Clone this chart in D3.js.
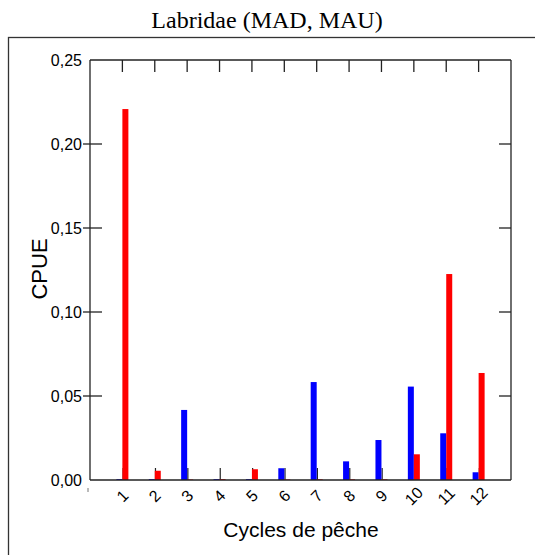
<!DOCTYPE html>
<html><head><meta charset="utf-8">
<script src="https://cdn.jsdelivr.net/npm/d3@7"></script>
<style>body{margin:0;background:#fff}svg{display:block}</style>
</head><body>
<script>
const categories = [1,2,3,4,5,6,7,8,9,10,11,12];
const xTickLabels = ["1","2","3","4","5","6","7","8","9","10","11","12"];
const blueValues = [0.0005,0.0005,0.0417,0.0005,0.0005,0.0070,0.0583,0.0111,0.0238,0.0556,0.0278,0.0046];
const redValues  = [0.2208,0.0055,0.0003,0.0005,0.0064,0.0003,0.0004,0.0004,0.0004,0.0153,0.1226,0.0637];
const yTicks = [0,0.05,0.10,0.15,0.20,0.25];
const yTickLabels = ["0,00","0,05","0,10","0,15","0,20","0,25"];

const W=535,H=555;
const svg=d3.select("body").append("svg").attr("width",W).attr("height",H);
const L=90,R=511,T=60,B=480;
const x=d3.scaleLinear().domain([0,13]).range([L,R]);
const y=d3.scaleLinear().domain([0,0.25]).range([B,T]);
const bw=6, lc="#222", lw=1.3;

// outer frame
svg.append("rect").attr("x",8.5).attr("y",37.5).attr("width",W).attr("height",H)
  .attr("fill","none").attr("stroke","#333").attr("stroke-width",1.3);

// title
svg.append("text").attr("x",267).attr("y",28).attr("text-anchor","middle")
  .attr("font-family","Liberation Serif, Times New Roman, serif").attr("font-size",24)
  .text("Labridae (MAD, MAU)");

// bottom ticks (under bars)
svg.append("g").selectAll("line").data(categories).join("line")
  .attr("x1",d=>x(d)+0.7).attr("x2",d=>x(d)+0.7).attr("y1",B).attr("y2",B-12)
  .attr("stroke",lc).attr("stroke-width",1.2);

// bars
svg.append("g").selectAll("rect").data(categories).join("rect")
  .attr("x",d=>x(d)-bw).attr("width",bw)
  .attr("y",(d,i)=>y(blueValues[i])).attr("height",(d,i)=>B-y(blueValues[i]))
  .attr("fill","#0000ff");
svg.append("g").selectAll("rect").data(categories).join("rect")
  .attr("x",d=>x(d)).attr("width",bw)
  .attr("y",(d,i)=>y(redValues[i])).attr("height",(d,i)=>B-y(redValues[i]))
  .attr("fill","#ff0000");

// frame of plot
const g=svg.append("g").attr("stroke",lc).attr("stroke-width",lw).attr("fill","none");
g.append("line").attr("x1",L).attr("x2",R).attr("y1",T).attr("y2",T);
g.append("line").attr("x1",L).attr("x2",R).attr("y1",B).attr("y2",B);
g.append("line").attr("x1",L).attr("x2",L).attr("y1",T).attr("y2",B);
g.append("line").attr("x1",R).attr("x2",R).attr("y1",T).attr("y2",B);
// top ticks
g.selectAll(".tt").data(categories).join("line").attr("class","tt")
  .attr("x1",d=>x(d)).attr("x2",d=>x(d)).attr("y1",T).attr("y2",T+12);
// left ticks
g.selectAll(".lt").data(yTicks.slice(1,-1)).join("line").attr("class","lt")
  .attr("x1",L-7).attr("x2",L+12).attr("y1",d=>y(d)).attr("y2",d=>y(d));
// right ticks
g.selectAll(".rt").data(yTicks.slice(1,-1)).join("line").attr("class","rt")
  .attr("x1",R-12).attr("x2",R).attr("y1",d=>y(d)).attr("y2",d=>y(d));

// y tick labels
svg.append("g").selectAll("text").data(yTicks).join("text")
  .attr("x",L-8).attr("y",d=>y(d)+5.5).attr("text-anchor","end")
  .attr("font-family","Liberation Sans, Arial, sans-serif").attr("font-size",16)
  .text((d,i)=>yTickLabels[i]);

// x tick labels
svg.append("g").selectAll("text").data(categories).join("text")
  .attr("transform",d=>`translate(${x(d)},${496}) rotate(-45)`)
  .attr("text-anchor","middle").attr("dy","0.35em")
  .attr("font-family","Liberation Sans, Arial, sans-serif").attr("font-size",16)
  .text((d,i)=>xTickLabels[i]);
// stray mark at category 0
svg.append("line").attr("x1",x(0)-2).attr("x2",x(0)-2).attr("y1",488).attr("y2",492)
  .attr("stroke","#777").attr("stroke-width",1);

// axis titles
svg.append("text").attr("transform","translate(47,269) rotate(-90)").attr("text-anchor","middle")
  .attr("font-family","Liberation Sans, Arial, sans-serif").attr("font-size",22).text("CPUE");
svg.append("text").attr("x",301).attr("y",537).attr("text-anchor","middle")
  .attr("font-family","Liberation Sans, Arial, sans-serif").attr("font-size",21).text("Cycles de pêche");
</script>
</body></html>
